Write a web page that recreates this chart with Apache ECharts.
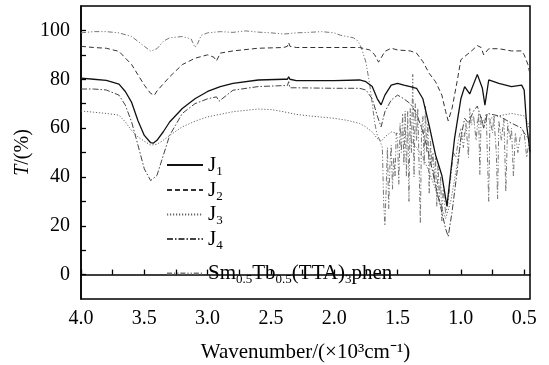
<!DOCTYPE html>
<html>
<head>
<meta charset="utf-8">
<script src="https://cdn.jsdelivr.net/npm/echarts@6/dist/echarts.min.js"></script>
<style>html,body{margin:0;padding:0;background:#fff;}#c{width:549px;height:365px;}</style>
</head>
<body>
<div id="c"></div>
<script>
// ---- data (wavenumber in 10^3 cm^-1, transmittance %) ----
const xTicks = [4.0, 3.75, 3.5, 3.25, 3.0, 2.75, 2.5, 2.25, 2.0, 1.75, 1.5, 1.25, 1.0, 0.75, 0.5];
const xLabels = [4.0, 3.5, 3.0, 2.5, 2.0, 1.5, 1.0, 0.5];
const yTicks = [0, 10, 20, 30, 40, 50, 60, 70, 80, 90, 100];
const yLabels = [0, 20, 40, 60, 80, 100];

const wnJ1 = [4.0, 3.9, 3.8, 3.7, 3.65, 3.6, 3.55, 3.5, 3.45, 3.43, 3.4, 3.35, 3.3, 3.2, 3.1, 3.0, 2.9, 2.8, 2.6, 2.4, 2.37, 2.36, 2.35, 2.3, 2.0, 1.8, 1.75, 1.7, 1.66, 1.63, 1.6, 1.55, 1.5, 1.45, 1.4, 1.35, 1.3, 1.25, 1.2, 1.15, 1.11, 1.08, 1.05, 1.0, 0.97, 0.93, 0.87, 0.83, 0.81, 0.78, 0.7, 0.6, 0.52, 0.5, 0.48, 0.46, 0.454];
const tJ1  = [80.5, 80, 79.5, 78, 75, 70.5, 63, 57, 54, 53.8, 55, 58.5, 62.5, 68, 72, 75, 77, 78.3, 79.7, 80, 80, 81, 80, 79.4, 79.4, 79.7, 79, 77, 72, 69.5, 73.5, 77.6, 78.3, 77.6, 77, 76.3, 72, 61, 49, 40.6, 28, 42, 55.7, 72, 77, 74, 82, 76.3, 69.4, 79.7, 78.3, 77, 77.6, 75.6, 61, 53, 50];

const wnJ2 = [4.0, 3.9, 3.8, 3.7, 3.6, 3.55, 3.5, 3.45, 3.42, 3.4, 3.3, 3.2, 3.1, 3.0, 2.95, 2.93, 2.9, 2.8, 2.6, 2.4, 2.37, 2.36, 2.35, 2.3, 2.0, 1.8, 1.72, 1.68, 1.65, 1.6, 1.55, 1.5, 1.4, 1.35, 1.3, 1.25, 1.2, 1.15, 1.12, 1.1, 1.07, 1.03, 1.0, 0.97, 0.92, 0.87, 0.84, 0.82, 0.78, 0.7, 0.6, 0.52, 0.5, 0.47, 0.454];
const tJ2  = [93.5, 93, 92.7, 91.4, 86, 81.8, 77.6, 74.2, 73.5, 75.2, 81, 86, 88.6, 90, 89, 87.5, 90.7, 91.6, 92.7, 93, 93.5, 95, 93.5, 93, 93, 93, 92, 90, 87, 91.4, 92.7, 92, 91.6, 90.7, 87.2, 82.4, 79, 73.5, 66.7, 63, 68, 79, 88, 89.3, 91.4, 93.8, 93, 90, 92.5, 92.5, 91.6, 91.6, 90, 86, 82];

const wnJ3 = [4.0, 3.9, 3.8, 3.7, 3.65, 3.6, 3.55, 3.5, 3.45, 3.4, 3.35, 3.3, 3.2, 3.1, 3.0, 2.8, 2.6, 2.5, 2.4, 2.3, 2.2, 2.0, 1.9, 1.8, 1.75, 1.7, 1.66, 1.63, 1.6, 1.55, 1.5, 1.45, 1.4, 1.35, 1.3, 1.25, 1.2, 1.15, 1.12, 1.08, 1.03, 1.0, 0.95, 0.9, 0.8, 0.7, 0.6, 0.5, 0.47, 0.454];
const tJ3  = [67, 66.5, 66, 65.3, 62.5, 59, 56.4, 54.6, 53, 53.4, 55, 57, 60.5, 62.8, 64.6, 66.7, 67.8, 67.6, 66.7, 65.6, 65, 64, 63.2, 61.9, 60.5, 58.4, 55.7, 54.6, 56.4, 58.4, 57.8, 57, 55, 52, 48, 42, 35, 27, 23, 30, 45, 55, 60, 62, 63.5, 65, 66, 65, 62, 58];

const wnJ4 = [4.0, 3.9, 3.8, 3.7, 3.65, 3.6, 3.55, 3.5, 3.45, 3.4, 3.35, 3.3, 3.2, 3.1, 3.0, 2.93, 2.91, 2.8, 2.6, 2.4, 2.37, 2.36, 2.35, 2.3, 2.0, 1.8, 1.75, 1.7, 1.66, 1.63, 1.6, 1.55, 1.5, 1.45, 1.4, 1.35, 1.3, 1.25, 1.2, 1.15, 1.12, 1.1, 1.07, 1.03, 1.0, 0.97, 0.94, 0.9, 0.87, 0.84, 0.82, 0.79, 0.7, 0.6, 0.52, 0.5, 0.47, 0.454];
const tJ4  = [76, 76, 75.6, 73.5, 69.4, 62.5, 53, 43.3, 38.5, 40.6, 48.8, 57, 66, 70, 72, 72.8, 71, 75.5, 77, 77.4, 77.4, 79, 76.5, 76.5, 76.3, 76.3, 75.6, 72, 65, 60.5, 66.7, 71.5, 73.5, 72, 70, 66, 58.4, 48.8, 36.5, 25.5, 18.7, 15.6, 25.5, 42, 56, 64, 62, 67, 69, 64, 60, 66, 65, 62, 60, 58, 56, 54];

const wnSm = [4.0, 3.9, 3.8, 3.7, 3.6, 3.55, 3.5, 3.45, 3.4, 3.35, 3.3, 3.2, 3.13, 3.1, 3.08, 3.05, 3.0, 2.9, 2.8, 2.7, 2.6, 2.5, 2.4, 2.3, 2.2, 2.1, 2.0, 1.95, 1.9, 1.85, 1.82, 1.8, 1.78, 1.75, 1.72, 1.7, 1.68, 1.66, 1.64, 1.62, 1.61, 1.6, 1.59, 1.58, 1.57, 1.56, 1.55, 1.54, 1.53, 1.52, 1.51, 1.5, 1.49, 1.48, 1.47, 1.46, 1.45, 1.44, 1.43, 1.42, 1.41, 1.4, 1.39, 1.38, 1.37, 1.36, 1.35, 1.34, 1.32, 1.31, 1.3, 1.29, 1.28, 1.27, 1.26, 1.25, 1.24, 1.23, 1.22, 1.21, 1.2, 1.19, 1.18, 1.17, 1.16, 1.15, 1.14, 1.12, 1.1, 1.08, 1.06, 1.04, 1.02, 1.0, 0.98, 0.96, 0.94, 0.93, 0.92, 0.9, 0.88, 0.86, 0.85, 0.84, 0.82, 0.8, 0.78, 0.77, 0.75, 0.74, 0.72, 0.71, 0.7, 0.68, 0.66, 0.645, 0.63, 0.61, 0.6, 0.585, 0.57, 0.55, 0.53, 0.5, 0.48, 0.46, 0.454];
const tSm  = [99, 99.5, 99.5, 99, 97.5, 95.5, 93.5, 91.5, 92.5, 95.5, 97, 97.5, 96.5, 93, 94.5, 98, 99, 99.5, 99.2, 99.8, 99.3, 99, 98.5, 99, 99.2, 99.5, 99, 98, 97.5, 97, 96, 94.5, 92, 87, 78, 70, 62, 57, 55, 52, 30, 20, 35, 52, 27, 45, 53, 35, 48, 40, 58, 55, 37, 62, 50, 66, 45, 67, 40, 67, 30, 68, 50, 82, 40, 70, 55, 68, 21, 60, 65, 45, 69, 50, 62, 33, 55, 45, 50, 38, 48, 28, 45, 30, 40, 22, 35, 25, 30, 40, 50, 48, 55, 60, 52, 62, 48, 68, 62, 65, 55, 66, 41, 65, 60, 66, 30, 64, 58, 65, 50, 31, 63, 55, 64, 34, 62, 55, 60, 40, 58, 50, 57, 58, 48, 55, 50];

const names = ['J1', 'J2', 'J3', 'J4', 'Sm'];

const pair = (xs, ys) => xs.map((x, i) => [x, ys[i]]);
const serifFont = "'Liberation Serif', serif";

const styles = {
  J1: { color: '#111', width: 1.3, type: 'solid' },
  J2: { color: '#333', width: 1, type: [5, 3] },
  J3: { color: '#666', width: 1, type: [1.2, 1.8] },
  J4: { color: '#444', width: 1, type: [6, 2, 1.5, 2] },
  Sm: { color: '#777', width: 1, type: [5, 2, 1.2, 2, 1.2, 2] }
};
const seriesData = {
  J1: pair(wnJ1, tJ1), J2: pair(wnJ2, tJ2), J3: pair(wnJ3, tJ3),
  J4: pair(wnJ4, tJ4), Sm: pair(wnSm, tSm)
};

const legendCenters = { J1: 163, J2: 188, J3: 212.5, J4: 237, Sm: 271.5 };
const rich = {
  m: { fontSize: 21, lineHeight: 26, fontFamily: serifFont, color: '#000' },
  s: { fontSize: 13, lineHeight: 10, verticalAlign: 'bottom', fontFamily: serifFont, color: '#000' }
};
const legends = names.map(n => ({
  data: [n],
  left: 166,
  top: legendCenters[n] - 8.5,
  padding: 0,
  itemWidth: 36,
  itemHeight: 14,
  selectedMode: false,
  itemStyle: { opacity: 0 },
  textStyle: { fontFamily: serifFont, fontSize: 21, color: '#000', rich: rich },
  formatter: name => name === 'Sm'
    ? '{m|Sm}{s|0.5}{m|Tb}{s|0.5}{m|(TTA)}{s|3}{m|phen}'
    : '{m|J}{s|' + name.slice(1) + '}'
}));

const chart = echarts.init(document.getElementById('c'), null, { renderer: 'canvas' });
chart.setOption({
  animation: false,
  backgroundColor: '#fff',
  grid: { left: 81, right: 19, top: 6, bottom: 66, show: true, borderColor: '#000', borderWidth: 1.5,
          containLabel: false, outerBoundsMode: 'none' },
  legend: legends,
  xAxis: {
    type: 'value', min: 0.454, max: 4.0, inverse: true,
    name: 'Wavenumber/(×10³cm⁻¹)', nameLocation: 'middle', nameGap: 43, nameMoveOverlap: false,
    nameTextStyle: { fontFamily: serifFont, fontSize: 21, color: '#000' },
    axisLine: { lineStyle: { color: '#000', width: 1.5 } },
    axisTick: { inside: true, length: 5, customValues: xTicks, lineStyle: { color: '#000', width: 1.3 } },
    axisLabel: { customValues: xLabels, formatter: v => v.toFixed(1), fontFamily: serifFont, fontSize: 20, color: '#000', margin: 10 },
    splitLine: { show: false }
  },
  yAxis: {
    type: 'value', min: -10, max: 110, interval: 10,
    name: '{i|T}/(%)', nameLocation: 'middle', nameGap: 48, nameMoveOverlap: false,
    nameTextStyle: { fontFamily: serifFont, fontSize: 20, color: '#000',
      rich: { i: { fontStyle: 'italic', fontFamily: serifFont, fontSize: 20, color: '#000' } } },
    axisLine: { show: true, lineStyle: { color: '#000', width: 1.5 } },
    axisTick: { inside: true, length: 5, customValues: yTicks, lineStyle: { color: '#000', width: 1.3 } },
    axisLabel: { customValues: yLabels, fontFamily: serifFont, fontSize: 20, color: '#000', margin: 11 },
    splitLine: { show: false }
  },
  series: names.slice().reverse().map(n => ({
    name: n, type: 'line', symbol: 'none', showSymbol: false,
    data: seriesData[n],
    lineStyle: styles[n], itemStyle: { color: styles[n].color },
    z: n === 'J1' ? 5 : 3
  }))
});
</script>
</body>
</html>
